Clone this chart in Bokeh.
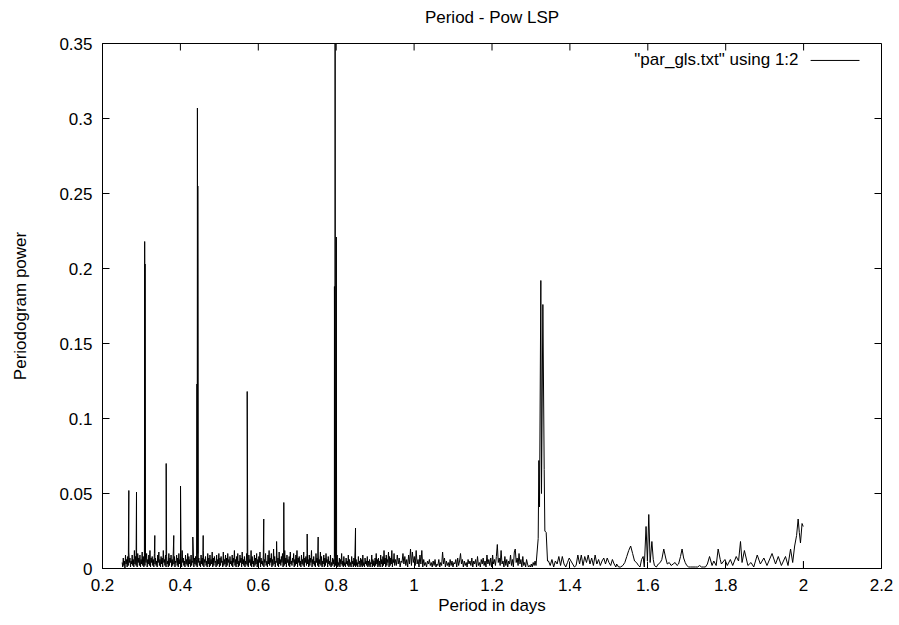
import numpy as np
from bokeh.plotting import figure
from bokeh.models import FixedTicker, Label, Arrow, Range1d
from bokeh.embed import file_html
from bokeh.resources import INLINE

# ---------------- texts ----------------
title_text = "Period - Pow LSP"
x_label = "Period in days"
y_label = "Periodogram power"
legend_text = '"par_gls.txt" using 1:2'

x_ticks = [0.2, 0.4, 0.6, 0.8, 1.0, 1.2, 1.4, 1.6, 1.8, 2.0, 2.2]
x_tick_labels = ["0.2", "0.4", "0.6", "0.8", "1", "1.2", "1.4", "1.6", "1.8", "2", "2.2"]
y_ticks = [0, 0.05, 0.1, 0.15, 0.2, 0.25, 0.3, 0.35]
y_tick_labels = ["0", "0.05", "0.1", "0.15", "0.2", "0.25", "0.3", "0.35"]

# ---------------- data (power in units of 1e-3) ----------------
# dense noise floor, evenly sampled between start and end period
noise_a_span = (0.2505, 0.620)
noise_a = [4, 1, 7, 2, 5, 0, 9, 3, 6, 1, 8, 2, 11, 4, 7, 1, 5, 3, 9, 2,
           6, 1, 12, 3, 8, 2, 5, 1, 10, 4, 7, 2, 9, 1, 6, 3, 11, 2, 8, 1,
           5, 2, 7, 4, 10, 1, 6, 3, 9, 2, 12, 1, 7, 4, 8, 2, 6, 1, 10, 3,
           7, 2, 5, 1, 9, 4, 11, 2, 6, 1, 8, 3, 7, 1, 12, 4, 6, 2, 9, 1,
           8, 3, 5, 1, 10, 2, 7, 4, 9, 1, 6, 2, 11, 3, 8, 1, 5, 4, 9, 2,
           7, 1, 10, 3, 6, 2, 8, 1, 12, 4, 7, 2, 5, 1, 9, 3, 6, 2, 10, 1,
           8, 3, 6, 1, 9, 2, 5, 4, 11, 1, 7, 3, 8, 2, 6, 1, 10, 4, 7, 2,
           5, 1, 9, 3, 7, 2, 12, 1, 6, 4, 8, 2, 5, 1, 10, 3, 7, 1, 9, 2,
           6, 3, 11, 1, 7, 2, 8, 4, 5, 1, 9, 2, 6, 3, 10, 1, 7, 2, 8, 4,
           5, 1, 11, 2, 6, 3, 9, 1, 7, 2, 10, 4, 6, 1, 8, 3, 5, 2, 9, 1,
           7, 4, 12, 2, 6, 1, 8, 3, 10, 1, 5, 2, 9, 4, 7, 1, 11, 3, 6, 2,
           8, 1, 5, 3, 10, 2, 7, 1, 9, 4, 6, 2, 12, 1, 8, 3, 5, 1, 9, 2,
           7, 3, 10, 1, 6, 2, 8, 4, 11, 1, 7, 3, 5, 2, 9, 1, 6, 4, 10, 2]

noise_b_span = (0.622, 0.950)
noise_b = [5, 1, 9, 3, 12, 2, 7, 4, 10, 1, 6, 2, 13, 3, 8, 1, 5, 4, 9, 2,
           7, 1, 11, 3, 6, 2, 8, 4, 10, 1, 5, 2, 12, 3, 7, 1, 9, 4, 6, 2,
           8, 1, 11, 3, 5, 2, 7, 4, 10, 1, 6, 2, 9, 3, 12, 1, 7, 4, 8, 2,
           5, 1, 9, 3, 6, 2, 11, 1, 7, 4, 8, 2, 10, 3, 6, 1, 9, 2, 7, 4,
           12, 1, 6, 3, 8, 2, 5, 1, 10, 4, 7, 2, 9, 1, 6, 3, 11, 2, 8, 1,
           5, 3, 9, 1, 7, 2, 10, 4, 6, 1, 8, 3, 5, 2, 9, 1, 4, 2, 7, 3,
           6, 1, 8, 2, 5, 3, 9, 1, 4, 2, 7, 1, 6, 3, 10, 2, 5, 1, 8, 2,
           4, 1, 7, 3, 5, 2, 9, 1, 6, 2, 4, 1, 8, 3, 5, 1, 7, 2, 11, 1,
           6, 2, 4, 1, 8, 3, 5, 1, 7, 2, 6, 1, 9, 2, 4, 1, 7, 3, 5, 2,
           8, 1, 5, 2, 6, 1, 4, 3, 9, 1, 6, 2, 5, 1, 7, 2, 10, 3, 6, 1,
           7, 2, 5, 1, 9, 3, 6, 1, 8, 2, 12, 3, 7, 1, 9, 2, 6, 4, 11, 1,
           8, 2, 7, 3, 12, 1, 6, 4, 10, 2]

noise_c_span = (0.952, 1.313)
noise_c = [6, 2, 9, 3, 7, 1, 5, 4, 10, 3, 8, 2, 6, 1, 9, 3, 13, 2, 11, 4,
           8, 2, 12, 3, 6, 1, 9, 3, 12, 1, 6, 2, 4, 1, 5, 3, 6, 2, 4, 1,
           5, 2, 6, 1, 3, 2, 6, 1, 4, 2, 11, 3, 7, 1, 5, 2, 4, 1, 6, 2,
           5, 1, 4, 3, 6, 1, 7, 2, 5, 10, 3, 6, 1, 5, 2, 4, 1, 6, 3, 5,
           2, 7, 1, 5, 3, 6, 1, 8, 2, 4, 1, 6, 3, 7, 2, 5, 1, 9, 3, 6,
           2, 7, 1, 9, 3, 6, 2, 8, 16, 4, 7, 2, 12, 3, 5, 1, 8, 2, 6, 1,
           5, 3, 9, 2, 6, 1, 11, 13, 4, 7, 2, 10, 3, 6, 1, 8, 2, 4, 1, 6,
           3, 1, 2, 1, 3, 1, 4, 2, 5, 2]

noise_d_span = (1.345, 1.518)
noise_d = [5, 2, 6, 1, 5, 3, 8, 2, 8, 3, 1, 4, 7, 5, 3, 1, 2, 9, 3, 9,
           2, 8, 4, 9, 3, 7, 2, 9, 3, 6, 2, 5, 7, 3, 7, 4, 2, 6, 3, 1]

# resolved peaks
peak_period = [0.2676, 0.2873, 0.3083, 0.3092, 0.3343, 0.3635, 0.3830, 0.4003,
               0.4319, 0.4425, 0.4437, 0.4447, 0.4585, 0.5715, 0.6140, 0.6470,
               0.6655, 0.7255, 0.7537, 0.7955, 0.7972, 0.8003, 0.8496,
               1.3186, 1.3203, 1.3220, 1.3254, 1.3271, 1.3306, 1.3340, 1.3357,
               1.3391, 1.3425]
peak_power = [52, 51, 218, 203, 22, 70, 22, 55,
              21, 123, 307, 255, 22, 118, 33, 18,
              44, 23, 21, 188, 370, 221, 27,
              20, 72, 41, 192, 50, 176, 66, 25,
              24, 5]

# long-period tail
tail_period = [1.520, 1.525, 1.530, 1.536, 1.541, 1.546, 1.551, 1.556, 1.561, 1.566,
               1.571, 1.576, 1.580, 1.584, 1.588, 1.591, 1.5955, 1.599, 1.6025, 1.606,
               1.6105, 1.614, 1.617, 1.622, 1.627, 1.632, 1.636, 1.641, 1.646, 1.650,
               1.655, 1.660, 1.665, 1.670, 1.675, 1.679, 1.684, 1.688, 1.692, 1.696,
               1.700, 1.705, 1.710, 1.716, 1.722, 1.728, 1.733, 1.738, 1.743, 1.748,
               1.753, 1.7585, 1.765, 1.7695, 1.7755, 1.7806, 1.786, 1.789, 1.798, 1.804,
               1.812, 1.818, 1.827, 1.833, 1.838, 1.842, 1.848, 1.857, 1.865, 1.872,
               1.881, 1.889, 1.898, 1.906, 1.919, 1.928, 1.935, 1.943, 1.9535, 1.960,
               1.9665, 1.972, 1.977, 1.982, 1.986, 1.989, 1.992, 1.9945, 1.996, 1.999]
tail_power = [3, 1, 1, 2, 4, 8, 12, 15, 10, 5,
              4, 2, 1, 6, 8, 1, 28, 5, 36, 4,
              18, 6, 2, 1, 3, 4, 6, 13, 7, 3,
              4, 2, 3, 4, 2, 3, 8, 13, 7, 4,
              2, 1, 1, 1, 1, 1, 2, 1, 1, 1,
              3, 8, 2, 5, 2, 13, 6, 3, 6, 2,
              6, 2, 8, 5, 18, 4, 12, 2, 4, 1,
              9, 3, 7, 2, 10, 3, 8, 2, 8, 2,
              13, 4, 15, 22, 33, 24, 17, 25, 30, 28]

# detached stub at the end of the file
stub_period = [1.9995, 1.9995]
stub_power = [0, 5]

# ---------------- assemble ----------------
xs, ys = [], []
for span, vals in [(noise_a_span, noise_a), (noise_b_span, noise_b),
                   (noise_c_span, noise_c), (noise_d_span, noise_d)]:
    xs.append(np.linspace(span[0], span[1], len(vals)))
    ys.append(np.array(vals, dtype=float))
xs.append(np.array(peak_period)); ys.append(np.array(peak_power, dtype=float))
xs.append(np.array(tail_period)); ys.append(np.array(tail_power, dtype=float))
x_all = np.concatenate(xs)
y_all = np.concatenate(ys)
order = np.argsort(x_all, kind="stable")
x_all = x_all[order]
y_all = y_all[order] / 1000.0
x_all = np.concatenate([x_all, [np.nan], stub_period])
y_all = np.concatenate([y_all, [np.nan], np.array(stub_power, dtype=float) / 1000.0])

FONT = "Liberation Sans"
FS = "17px"
X0, X1, Y0, Y1 = 0.2, 2.2, 0.0, 0.35
W, H = 899, 625
ML, MR, MT, MB = 102, 18, 43, 57
TICK_PX = 7
frame_w = W - ML - MR
frame_h = H - MT - MB
px_y = (Y1 - Y0) / frame_h
px_x = (X1 - X0) / frame_w

p = figure(width=W, height=H, output_backend="svg", toolbar_location=None,
           x_range=Range1d(X0, X1), y_range=Range1d(Y0, Y1),
           min_border_left=ML, min_border_right=MR, min_border_top=MT,
           min_border_bottom=MB)
p.background_fill_color = "white"
p.border_fill_color = "white"
p.outline_line_color = "black"
p.outline_line_width = 1
p.xgrid.grid_line_color = None
p.ygrid.grid_line_color = None

p.title.text = title_text
p.title.align = "center"
p.title.text_font = FONT
p.title.text_font_size = FS
p.title.text_font_style = "normal"
p.title.text_color = "black"
p.title.standoff = 2
try:
    # (left, right, top, bottom): lift the title away from the frame
    p.title.padding = (0, 0, 0, 16)
except Exception:
    pass

p.line(x_all, y_all, line_color="black", line_width=1)


def style_axis(ax, ticks, labels):
    ax.ticker = FixedTicker(ticks=ticks)
    ax.major_tick_in = TICK_PX
    ax.major_tick_out = 0
    ax.minor_tick_line_color = None
    ax.major_tick_line_color = "black"
    ax.axis_line_color = "black"
    ax.major_label_overrides = {t: l for t, l in zip(ticks, labels)}
    ax.major_label_text_font = FONT
    ax.major_label_text_font_size = FS
    ax.major_label_text_color = "black"
    ax.axis_label_text_font = FONT
    ax.axis_label_text_font_size = FS
    ax.axis_label_text_font_style = "normal"
    ax.axis_label_text_color = "black"


xa = p.xaxis[0]
style_axis(xa, x_ticks, x_tick_labels)
xa.axis_label = x_label
xa.major_label_standoff = 10
xa.axis_label_standoff = 2

ya = p.yaxis[0]
style_axis(ya, y_ticks, y_tick_labels)
ya.axis_label = y_label
ya.major_label_standoff = 10
ya.axis_label_standoff = 26

# mirrored inward ticks on the top and right borders (gnuplot style)
p.segment(x0=x_ticks, y0=[Y1] * len(x_ticks), x1=x_ticks,
          y1=[Y1 - TICK_PX * px_y] * len(x_ticks), line_color="black", line_width=1)
p.segment(x0=[X1] * len(y_ticks), y0=y_ticks, x1=[X1 - TICK_PX * px_x] * len(y_ticks),
          y1=y_ticks, line_color="black", line_width=1)

# key (gnuplot style: text then line sample)
p.add_layout(Label(x=1.987, y=0.3393, text=legend_text, text_align="right",
                   text_baseline="middle", text_font=FONT, text_font_size=FS,
                   text_color="black"))
p.add_layout(Arrow(end=None, x_start=2.018, y_start=0.3387, x_end=2.1435, y_end=0.3387,
                   line_color="black", line_width=1))

open("out.html", "w").write(file_html(p, INLINE))
